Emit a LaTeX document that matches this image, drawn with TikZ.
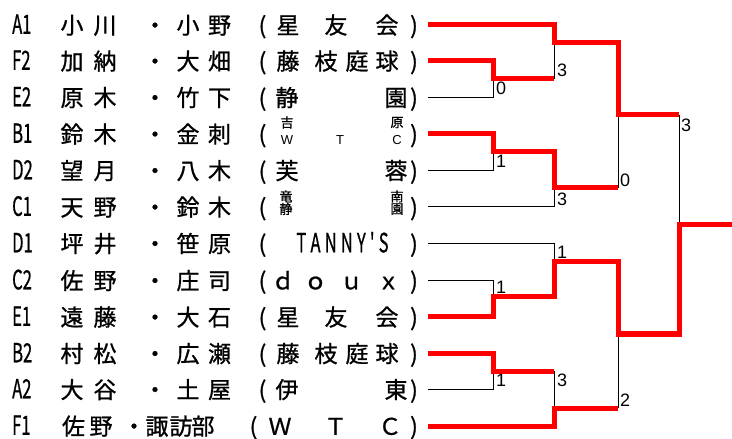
\documentclass[tikz,border=0pt]{standalone}
\usepackage{graphicx}
\usepackage{fontspec}
\setmainfont{Noto Sans CJK JP}[Ligatures=TeXOff,RawFeature={embolden=0.9}]
\newfontfamily\numfont{Liberation Sans}
\newcommand\fs{\fontsize{23bp}{25bp}\selectfont}
\newcommand\codetxt[1]{\scalebox{0.72}[1.15]{#1}}
\begin{document}
\begin{tikzpicture}[x=1bp,y=-1bp,
  codetx/.style={anchor=base west,inner sep=0pt,font=\fs},
  ch/.style={anchor=base,inner sep=0pt,font=\fs},
  smallcjk/.style={inner sep=0pt,font=\fontsize{13bp}{13bp}\selectfont},
  smalllat/.style={inner sep=0pt,font=\numfont\fontsize{13bp}{13bp}\selectfont},
  score/.style={anchor=west,inner sep=0pt,font=\numfont\fontsize{18bp}{18bp}\selectfont},
  win/.style={draw=red,line width=5bp,line join=miter},
  lose/.style={draw=black,line width=1bp}]
\useasboundingbox (0,0) rectangle (732,439);
\def\bo{8.8}
% row: id, y, code, name chars
\newcommand\prow[7]{%
  \node[codetx] (#1c) at (12,#2+\bo) {\codetxt{#3}};
  \node[ch] (#1a) at (72,#2+\bo) {#4};
  \node[ch] (#1b) at (105,#2+\bo) {#5};
  \node[ch] (#1d) at (155,#2+\bo) {・};
  \node[ch] (#1e) at (188,#2+\bo) {#6};
  \node[ch] (#1f) at (219.5,#2+\bo) {#7};
  \node[ch] (#1l) at (262.5,#2+\bo) {(};
  \node[ch] (#1r) at (414,#2+\bo) {)};}
\newcommand\cch[4]{\node[ch] (#1) at (#2,#3+\bo) {#4};}
% rows
\prow{r1}{25}{A1}{小}{川}{小}{野}
\cch{r1k1}{288}{25}{星}\cch{r1k2}{336}{25}{友}\cch{r1k3}{387}{25}{会}
\prow{r2}{61}{F2}{加}{納}{大}{畑}
\cch{r2k1}{288}{61}{藤}\cch{r2k2}{326}{61}{枝}\cch{r2k3}{357}{61}{庭}\cch{r2k4}{387}{61}{球}
\prow{r3}{97.5}{E2}{原}{木}{竹}{下}
\cch{r3k1}{287}{97.5}{静}\cch{r3k2}{396}{97.5}{園}
\prow{r4}{134}{B1}{鈴}{木}{金}{刺}
\prow{r5}{170.5}{D2}{望}{月}{八}{木}
\cch{r5k1}{287}{170.5}{芙}\cch{r5k2}{396}{170.5}{蓉}
\prow{r6}{207}{C1}{天}{野}{鈴}{木}
\prow{r7}{243.5}{D1}{坪}{井}{笹}{原}
\node[ch] (r7k) at (342.5,243.5+\bo) {\codetxt{\makebox[128bp][s]{T\hfil A\hfil N\hfil N\hfil Y\hfil '\hfil S}}};
\prow{r8}{280.5}{C2}{佐}{野}{庄}{司}
\cch{r8k1}{283}{280.5}{ｄ}\cch{r8k2}{315.5}{280.5}{ｏ}\cch{r8k3}{351.5}{280.5}{ｕ}\cch{r8k4}{388.5}{280.5}{ｘ}
\prow{r9}{317}{E1}{遠}{藤}{大}{石}
\cch{r9k1}{288}{317}{星}\cch{r9k2}{336}{317}{友}\cch{r9k3}{387}{317}{会}
\prow{r10}{353.5}{B2}{村}{松}{広}{瀬}
\cch{r10k1}{288}{353.5}{藤}\cch{r10k2}{326}{353.5}{枝}\cch{r10k3}{357}{353.5}{庭}\cch{r10k4}{387}{353.5}{球}
\prow{r11}{389.5}{A2}{大}{谷}{土}{屋}
\cch{r11k1}{287}{389.5}{伊}\cch{r11k2}{396}{389.5}{東}
% row F1 (different spacing)
\node[codetx] (r12c) at (12,426+\bo) {\codetxt{F1}};
\cch{r12a}{73.5}{426}{佐}\cch{r12b}{101}{426}{野}\cch{r12d}{134}{426}{・}
\cch{r12e}{157}{426}{諏}\cch{r12f}{181}{426}{訪}\cch{r12g}{203}{426}{部}
\cch{r12l}{253.5}{426}{(}\cch{r12r}{414}{426}{)}
\cch{r12k1}{280}{426}{Ｗ}\cch{r12k2}{335.5}{426}{Ｔ}\cch{r12k3}{390}{426}{Ｃ}
% small club texts
\node[smallcjk] (b1a) at (287,122.5) {吉};
\node[smallcjk] (b1b) at (397,122.5) {原};
\node[smalllat] (b1c) at (287,140) {W};
\node[smalllat] (b1d) at (340,140) {T};
\node[smalllat] (b1e) at (397,140) {C};
\node[smallcjk] (c1a) at (286,196.5) {竜};
\node[smallcjk] (c1b) at (397,196.5) {南};
\node[smallcjk] (c1c) at (286,209) {静};
\node[smallcjk] (c1d) at (397,209) {園};
% line starts
\coordinate (p1) at (428,25);
\coordinate (p2) at (428,61);
\coordinate (p3) at (428,97.5);
\coordinate (p4) at (428,134);
\coordinate (p5) at (428,170.5);
\coordinate (p6) at (428,207);
\coordinate (p7) at (428,243.5);
\coordinate (p8) at (428,280.5);
\coordinate (p9) at (428,317);
\coordinate (p10) at (428,353.5);
\coordinate (p11) at (428,389.5);
\coordinate (p12) at (428,426);
% joins
\coordinate (m1) at (493,79);
\coordinate (m2) at (554,43);
\coordinate (m3) at (493,152);
\coordinate (m4) at (554,188);
\coordinate (m5) at (618,115);
\coordinate (m6) at (493,297);
\coordinate (m7) at (554,262);
\coordinate (m8) at (493,371);
\coordinate (m9) at (554,408);
\coordinate (m10) at (618,334);
\coordinate (m11) at (679,225);
\coordinate (fin) at (732,225);
% losing lines
\draw[lose] (p3) -| (m1);
\draw[lose] (m1 -| m2) -- (m2);
\draw[lose] (p5) -| (m3);
\draw[lose] (p6) -| (m4);
\draw[lose] (m4 -| m5) -- (m5);
\draw[lose] (p8) -| (m6);
\draw[lose] (p7) -| (m7);
\draw[lose] (p11) -| (m8);
\draw[lose] (m8 -| m9) -- (m9);
\draw[lose] (m9 -| m10) -- (m10);
\draw[lose] (m5 -| m11) -- (m11);
% winning lines
\draw[win] (p2) -| (m1) -- (m1 -| m2);
\draw[win] (p1) -| (m2) -- (m2 -| m5) -- (m5) -- (m5 -| m11);
\draw[win] (p4) -| (m3) -- (m3 -| m4) -- (m4) -- (m4 -| m5);
\draw[win] (p9) -| (m6) -- (m6 -| m7) -- (m7) -- (m7 -| m10) -- (m10) -- (m10 -| m11) -- (m11) -- (fin);
\draw[win] (p10) -| (m8) -- (m8 -| m9);
\draw[win] (p12) -| (m9) -- (m9 -| m10);
% scores
\node[score] (s1) at (496,88.5) {0};
\node[score] (s2) at (557,70.5) {3};
\node[score] (s3) at (496,161.5) {1};
\node[score] (s4) at (557,199.5) {3};
\node[score] (s5) at (620,180.5) {0};
\node[score] (s6) at (681,125.5) {3};
\node[score] (s7) at (557,252.5) {1};
\node[score] (s8) at (496,287.5) {1};
\node[score] (s9) at (496,380) {1};
\node[score] (s10) at (557,380.5) {3};
\node[score] (s11) at (620,400) {2};
\end{tikzpicture}
\end{document}
